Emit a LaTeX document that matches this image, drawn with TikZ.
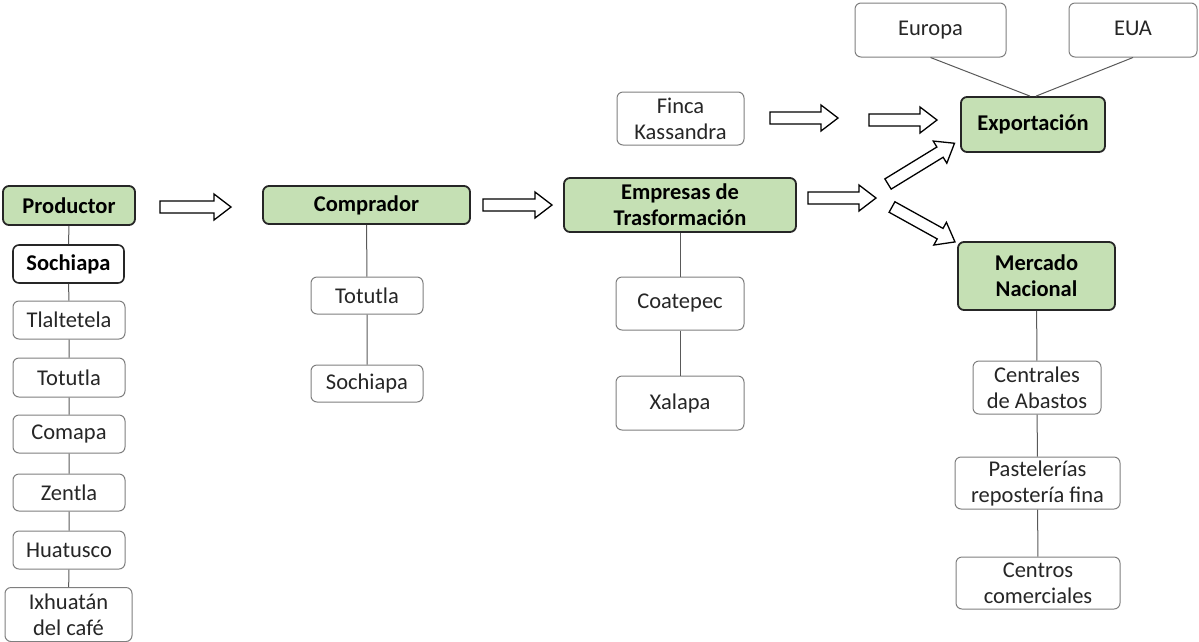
\documentclass[tikz,border=0pt]{standalone}
\usepackage{fontspec}
\setmainfont{Carlito}
\definecolor{gfill}{HTML}{C5E0B4}
\definecolor{gline}{HTML}{7F7F7F}
\definecolor{txt}{HTML}{262626}
\begin{document}
\begin{tikzpicture}[x=1pt,y=1pt,
  box/.style={draw=gline, line width=1pt, rounded corners=6pt, fill=white, align=center, inner sep=0pt, text=txt, font=\fontsize{22.5}{26}\selectfont},
  gbox/.style={box, fill=gfill, draw=black!85, line width=1.8pt, text=black, font=\bfseries\fontsize{22.5}{26}\selectfont},
  kbox/.style={box, draw=black!85, line width=1.6pt, text=black, font=\bfseries\fontsize{22.5}{26}\selectfont},
  link/.style={draw=black!65, line width=1pt},
  barrow/.pic={\draw[line width=1.3pt, black, fill=white, line join=miter] (0,-6) -- ({#1-17},-6) -- ({#1-17},-13) -- (#1,0) -- ({#1-17},13) -- ({#1-17},6) -- (0,6) -- cycle;}
]
\useasboundingbox (0,0) rectangle (1199,-641);
% Productor column
\node[gbox, minimum width=132, minimum height=39] (prod) at (69,-205.5) {Productor};
\node[kbox, minimum width=111, minimum height=38] (soch1) at (68.5,-264) {Sochiapa};
\node[box, minimum width=112, minimum height=38] (tlal) at (69,-320) {Tlaltetela};
\node[box, minimum width=112, minimum height=39] (tot1) at (69,-377.5) {Totutla};
\node[box, minimum width=112, minimum height=38] (com) at (69,-434) {Comapa};
\node[box, minimum width=112, minimum height=37] (zen) at (69,-492.5) {Zentla};
\node[box, minimum width=112, minimum height=38] (hua) at (69,-550) {Huatusco};
\node[box, minimum width=127, minimum height=54] (ixh) at (68.5,-614.5) {Ixhuatán\\del café};
\draw[link] (prod) -- (soch1) -- (tlal) -- (tot1) -- (com) -- (zen) -- (hua) -- (ixh);
% Comprador column
\node[gbox, minimum width=207, minimum height=38] (comp) at (366.5,-205) {Comprador};
\node[box, minimum width=112, minimum height=37] (tot2) at (367,-295.5) {Totutla};
\node[box, minimum width=112, minimum height=37] (soch2) at (367,-383.5) {Sochiapa};
\draw[link] (comp) -- (tot2) -- (soch2);
% Empresas column
\node[gbox, minimum width=232, minimum height=54] (emp) at (680,-205) {Empresas de\\Trasformación};
\node[box, minimum width=128, minimum height=53] (coat) at (680,-303.5) {Coatepec};
\node[box, minimum width=128, minimum height=54] (xal) at (680,-403) {Xalapa};
\node[box, minimum width=127, minimum height=53] (finca) at (680.5,-118.5) {Finca\\Kassandra};
\draw[link] (emp) -- (coat) -- (xal);
% Export
\node[gbox, minimum width=144, minimum height=55] (exp) at (1033,-124.5) {Exportación};
\node[box, minimum width=151, minimum height=54] (eur) at (930.5,-30) {Europa\strut};
\node[box, minimum width=128, minimum height=54] (eua) at (1133,-30) {EUA\strut};
\coordinate (expl) at ([xshift=-3]exp.north);
\coordinate (expr) at ([xshift=3]exp.north);
\draw[link] (eur.south) -- (expl);
\draw[link] (eua.south) -- (expr);
% Mercado
\node[gbox, minimum width=157, minimum height=68] (merc) at (1036.5,-276) {Mercado\\Nacional};
\node[box, minimum width=128, minimum height=53] (cent) at (1037,-387.5) {Centrales\\de Abastos};
\node[box, minimum width=165, minimum height=52] (past) at (1037.5,-483) {Pastelerías\\repostería fina};
\node[box, minimum width=164, minimum height=52] (ctr) at (1038,-583) {Centros\\comerciales};
\draw[link] (merc) -- (cent) -- (past) -- (ctr);
% block arrows
\pic at (160,-207) {barrow=71};
\pic at (483,-205) {barrow=69};
\pic at (808,-198) {barrow=68};
\pic at (770,-118) {barrow=68};
\pic at (869,-120) {barrow=68};
\pic[rotate=31.5] at (888,-184) {barrow=78};
\pic[rotate=-29] at (892,-207) {barrow=72};
\end{tikzpicture}
\end{document}
